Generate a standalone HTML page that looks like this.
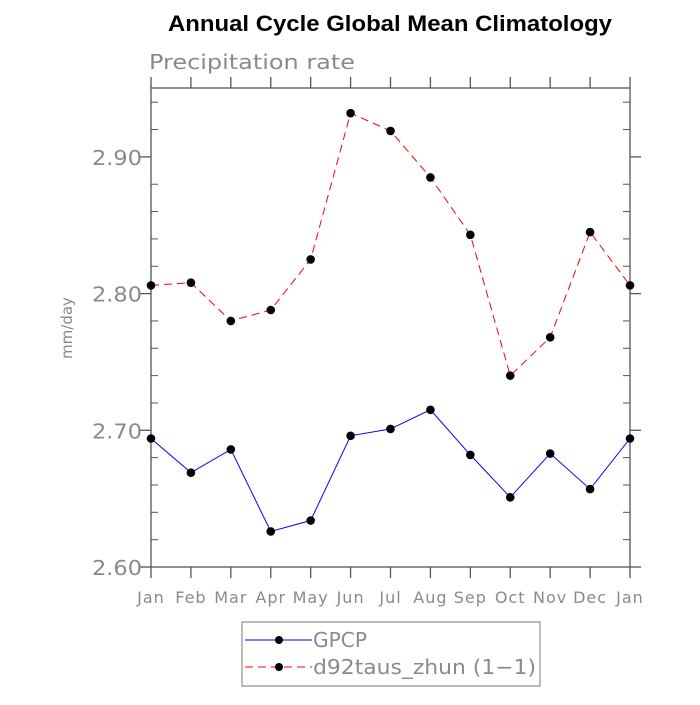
<!DOCTYPE html>
<html><head><meta charset="utf-8"><style>
body{margin:0;background:#fff;}
svg text{font-family:"DejaVu Sans","Liberation Sans",sans-serif;}
</style></head><body>
<svg id="c" width="700" height="700" xmlns="http://www.w3.org/2000/svg">
<text x="168" y="31" textLength="444" lengthAdjust="spacingAndGlyphs" font-size="22" font-weight="bold" fill="#000" style="font-family:'Liberation Sans',sans-serif">Annual Cycle Global Mean Climatology</text>
<text x="149" y="69" textLength="206" lengthAdjust="spacingAndGlyphs" font-size="20" fill="#8a8a8a">Precipitation rate</text>
<text transform="translate(72,328) rotate(-90)" text-anchor="middle" font-size="15" fill="#888">mm/day</text>
<g id="axes"></g>
<g id="series"></g>
<g>
<rect x="242" y="622" width="298" height="64" fill="none" stroke="#777" stroke-width="1"/>
<g>
<line x1="245" y1="640" x2="312" y2="640" stroke="#00f" stroke-width="1"/>
<circle cx="279" cy="640" r="4" fill="#000"/>
<text x="313" y="647" textLength="54" lengthAdjust="spacingAndGlyphs" font-size="20" fill="#8a8a8a">GPCP</text></g>
<g>
<line x1="245" y1="667" x2="312" y2="667" stroke="#f00" stroke-width="1" stroke-dasharray="8,5"/>
<circle cx="279" cy="667" r="4" fill="#000"/>
<text x="313" y="674" textLength="223" lengthAdjust="spacingAndGlyphs" font-size="20" fill="#8a8a8a">d92taus_zhun (1−1)</text></g>
</g>
</svg>
<script>
const months=["Jan","Feb","Mar","Apr","May","Jun","Jul","Aug","Sep","Oct","Nov","Dec","Jan"];
const gpcp=[2.694,2.669,2.686,2.626,2.634,2.696,2.701,2.715,2.682,2.651,2.683,2.657,2.694];
const model=[2.806,2.808,2.780,2.788,2.825,2.932,2.919,2.885,2.843,2.740,2.768,2.845,2.806];
const yTicks=["2.60","2.70","2.80","2.90"];
const X0=151,X1=630,Y0=567,Y1=88,YMIN=2.60,YMAX=2.9504;
const sx=i=>X0+(X1-X0)*i/(months.length-1);
const sy=v=>Y0-(v-YMIN)/(YMAX-YMIN)*(Y0-Y1);
const NS="http://www.w3.org/2000/svg";
function mk(t,a,p){const e=document.createElementNS(NS,t);for(const k in a)e.setAttribute(k,a[k]);p.appendChild(e);return e;}
const ax=document.getElementById('axes');
const frame=mk('rect',{x:X0,y:Y1,width:X1-X0,height:Y0-Y1,fill:'none',stroke:'#555','stroke-width':1.3},ax);


const C='#555';
for(let v=2.60;v<=2.9501;v+=0.02){
  const y=sy(v);const major=Math.abs(Math.round(v*10)-v*10)<1e-6;
  if(major){mk('line',{x1:X0-11,y1:y,x2:X0,y2:y,stroke:C,'stroke-width':1.3},ax);mk('line',{x1:X1,y1:y,x2:X1+11,y2:y,stroke:C,'stroke-width':1.3},ax);}
  else{mk('line',{x1:X0,y1:y,x2:X0+7,y2:y,stroke:C,'stroke-width':1},ax);mk('line',{x1:X1-7,y1:y,x2:X1,y2:y,stroke:C,'stroke-width':1},ax);}
}
yTicks.forEach(t=>{const e=mk('text',{x:X0-59,y:sy(+t)+8,textLength:50,lengthAdjust:'spacingAndGlyphs','font-size':20,fill:'#8a8a8a'},ax);e.textContent=t;

});
months.forEach((m,i)=>{const x=sx(i);
mk('line',{x1:x,y1:Y0,x2:x,y2:Y0+11,stroke:C,'stroke-width':1.3},ax);
mk('line',{x1:x,y1:Y1,x2:x,y2:Y1-11,stroke:C,'stroke-width':1.3},ax);
const e=mk('text',{x:x,y:603,'text-anchor':'middle','font-size':16,'letter-spacing':1,fill:'#8a8a8a'},ax);e.textContent=m;

});
const sg=document.getElementById('series');
function draw(vals,color,dash,name){
  const g=mk('g',{},sg);
  
  
  const l=mk('polyline',{points:vals.map((v,i)=>sx(i)+','+sy(v)).join(' '),fill:'none',stroke:color,'stroke-width':1,'stroke-dasharray':dash},g);
  
  
  vals.forEach((v,i)=>{const c=mk('circle',{cx:sx(i),cy:sy(v),r:4.3,fill:'#000'},g);
  
  });
}
draw(gpcp,'#00f','none','gpcp-series');
draw(model,'#f00','8,5','model-series');
</script>
</body></html>
